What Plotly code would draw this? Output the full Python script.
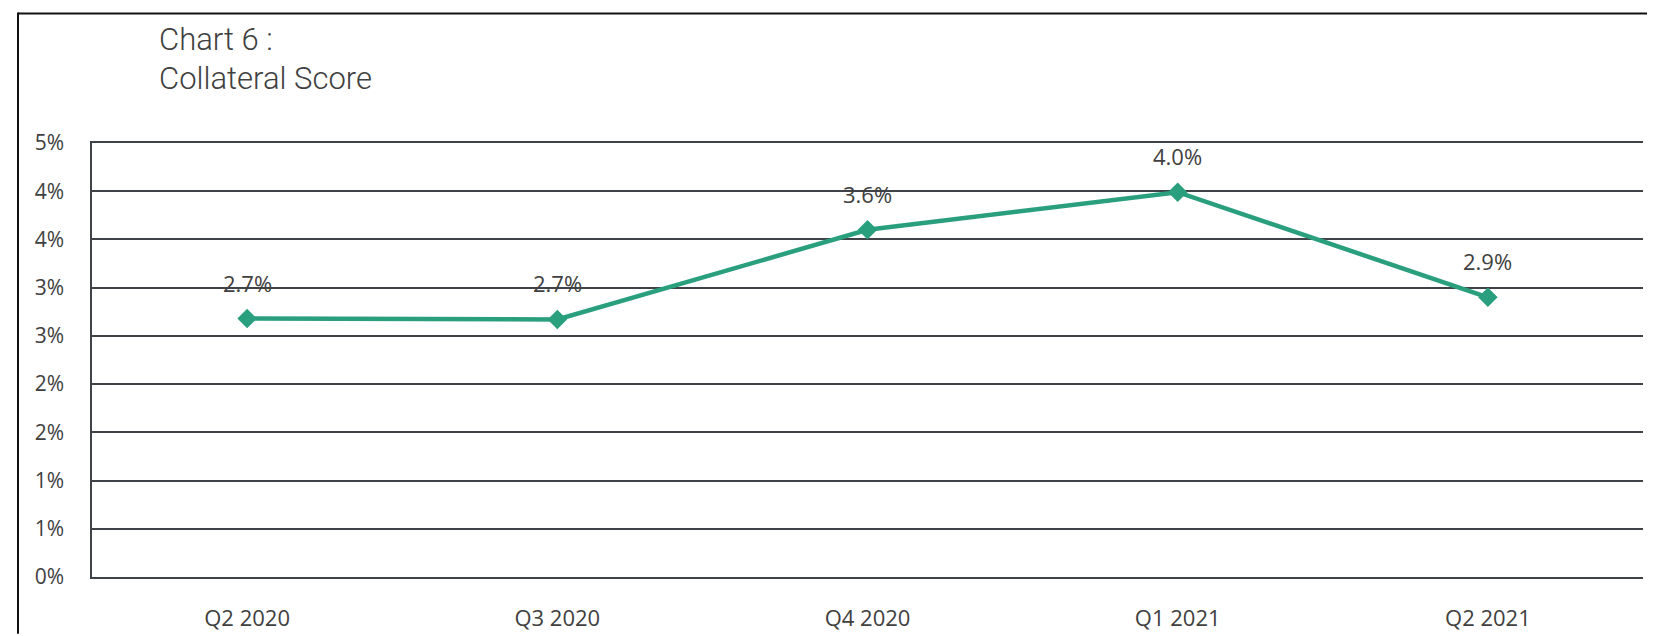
import plotly.graph_objects as go

categories = ["Q2 2020", "Q3 2020", "Q4 2020", "Q1 2021", "Q2 2021"]
values = [2.68, 2.67, 3.60, 3.99, 2.90]
value_labels = ["2.7%", "2.7%", "3.6%", "4.0%", "2.9%"]
y_tickvals = [0, 0.5, 1.0, 1.5, 2.0, 2.5, 3.0, 3.5, 4.0, 4.5]
y_ticktext = ["0%", "1%", "1%", "2%", "2%", "3%", "3%", "4%", "4%", "5%"]

# page has an 8px body margin: compensate
OFF = 8
W, H = 1655, 636
L = 92 - OFF
T = 143 - OFF
R = W - (1643 - OFF)
B = H - (579 - OFF)
pw, ph = W - L - R, H - T - B


def px_x(x):
    return (x - OFF - L) / pw


def px_y(y):
    return (H - B - (y - OFF)) / ph


line_color = "#2a9f7e"
text_color = "#404040"
grid_color = "#3f4347"

fig = go.Figure()
fig.add_trace(go.Scatter(
    x=categories, y=values, mode="lines+markers",
    line=dict(color=line_color, width=4.5),
    marker=dict(symbol="diamond", size=15, color=line_color),
    cliponaxis=False, showlegend=False, hoverinfo="skip",
))

annotations = []
for c, v, t in zip(categories, values, value_labels):
    annotations.append(dict(x=c, y=v, text=t, showarrow=False, yshift=36,
                            xanchor="center", yanchor="middle",
                            font=dict(family="Open Sans", size=22, color=text_color)))

title_font = dict(family="Roboto", size=31, color=text_color, weight=300)
annotations.append(dict(xref="paper", yref="paper", x=px_x(157), y=px_y(39),
                        text="Chart 6 :", showarrow=False, xanchor="left",
                        yanchor="middle", font=title_font))
annotations.append(dict(xref="paper", yref="paper", x=px_x(157), y=px_y(78),
                        text="Collateral Score", showarrow=False, xanchor="left",
                        yanchor="middle", font=title_font))

shapes = [
    dict(type="line", xref="paper", yref="paper",
         x0=px_x(18), x1=px_x(W),
         y0=px_y(13), y1=px_y(13),
         line=dict(color="#111111", width=2)),
    dict(type="line", xref="paper", yref="paper",
         x0=px_x(18), x1=px_x(18),
         y0=px_y(12), y1=px_y(H),
         line=dict(color="#111111", width=2)),
]

fig.update_layout(
    width=W, height=H,
    margin=dict(l=L, r=R, t=T, b=B),
    paper_bgcolor="white", plot_bgcolor="white",
    annotations=annotations, shapes=shapes,
    xaxis=dict(
        type="category", range=[-0.5, 4.5],
        showgrid=False, zeroline=False,
        showline=True, mirror=True, linecolor=grid_color, linewidth=1.5,
        ticks="",
        tickfont=dict(family="Open Sans", size=22, color=text_color),
        ticklabelstandoff=21,
    ),
    yaxis=dict(
        range=[0, 4.5], tickvals=y_tickvals, ticktext=y_ticktext,
        showgrid=True, gridcolor=grid_color, gridwidth=1.5,
        zeroline=False, showline=True, linecolor=grid_color, linewidth=1.5,
        ticks="", tickfont=dict(family="Open Sans", size=21, color=text_color),
        ticklabelstandoff=22,
    ),
)

fig.write_html("out.html")
